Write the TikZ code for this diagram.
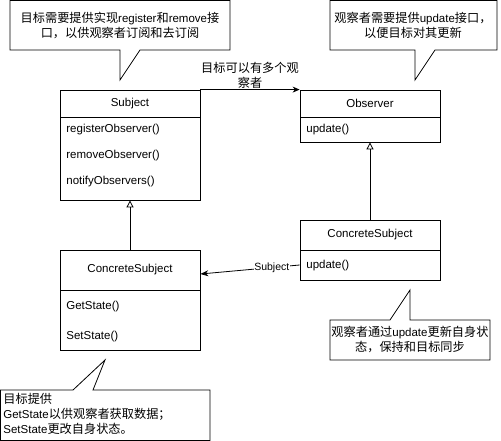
\documentclass[tikz,border=0pt]{standalone}
\usepackage{fontspec}
\setmainfont{Liberation Sans}
\newfontfamily\cjk[Scale=1.06]{Noto Sans CJK SC}
\newcommand{\zh}[1]{{\cjk #1}}
\usetikzlibrary{arrows.meta}

\begin{document}
\begin{tikzpicture}[x=1pt,y=-1pt,line width=0.8pt,
  font=\fontsize{11.5}{15}\selectfont,
  cls/.style={draw,minimum width=140pt,inner sep=0pt},
  item/.style={anchor=west,inner sep=0pt},
  note/.style={draw,fill=white,line join=miter},
  txt/.style={align=center,inner sep=0pt}]
\useasboundingbox (0,0) rectangle (501,441);

% classes
\node[cls,minimum height=27pt] (subj) at (130,103.5) {Subject};
\node[cls,minimum height=83pt] (subjb) at (130,158.5) {};
\node[item] (reg) at (66,130) {registerObserver()};
\node[item] (rem) at (66,156) {removeObserver()};
\node[item] (ntf) at (66,182) {notifyObservers()};

\node[cls,minimum height=27pt] (obs) at (370,103.5) {Observer};
\node[cls,minimum height=25pt] (obsb) at (370,129.5) {};
\node[item] (upd) at (306,130) {update()};

\node[cls,minimum height=30pt] (csr) at (370,235) {ConcreteSubject};
\node[cls,minimum height=30pt] (csrb) at (370,265) {};
\node[item] (updr) at (306,266) {update()};

\node[cls,minimum height=40pt] (csl) at (130,270) {ConcreteSubject};
\node[cls,minimum height=60pt] (cslb) at (130,320) {};
\node[item] (get) at (66,307) {GetState()};
\node[item] (set) at (66,337) {SetState()};

% connectors
\path[draw,-{Stealth[length=7pt,width=6pt]}] (subj.north east) -- (obs.north west)
  node[midway,above=1pt,txt] (many) {\zh{目标可以有多个观}\\\zh{察者}};
\path[draw,-{Triangle[open,length=7pt,width=7pt]}] (csr.north) -- (obsb.south);
\path[draw,-{Triangle[open,length=7pt,width=7pt]}] (csl.north) -- (subjb.south);
\path[draw,-{Stealth[length=8pt,width=6pt]}] (csrb.west) -- ([yshift=-4pt]csl.east)
  node[pos=0.28,fill=white,inner sep=0.5pt,font=\fontsize{10.5}{12}\selectfont] (lbl) {Subject};

% notes
\path[note] (10,0.5) -- (230,0.5) -- (230,50) -- (140,50) -- (120,80) -- (120,50) -- (10,50) -- cycle;
\node[txt] (n1) at (120,25) {\zh{目标需要提供实现}register\zh{和}remove\zh{接}\\\zh{口，以供观察者订阅和去订阅}};

\path[note] (330,0.5) -- (497,0.5) -- (497,50) -- (435,50) -- (415,80) -- (415,50) -- (330,50) -- cycle;
\node[txt] (n2) at (413,25) {\zh{观察者需要提供}update\zh{接口，}\\\zh{以便目标对其更新}};

\path[note] (330,320) -- (390,320) -- (410,290) -- (410,320) -- (490,320) -- (490,360) -- (330,360) -- cycle;
\node[txt] (n3) at (410,340) {\zh{观察者通过}update\zh{更新自身状}\\\zh{态，保持和目标同步}};

\path[note] (0.5,390) -- (73,390) -- (105,360) -- (93,390) -- (210,390) -- (210,440.5) -- (0.5,440.5) -- cycle;
\node[txt,align=left,anchor=west] (n4) at (3,414) {\zh{目标提供}\\GetState\zh{以供观察者获取数据；}\\SetState\zh{更改自身状态。}};
\end{tikzpicture}
\end{document}
